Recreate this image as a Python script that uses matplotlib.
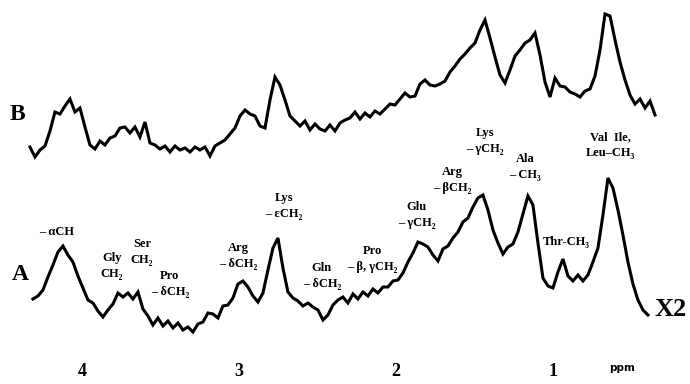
import numpy as np
import matplotlib
matplotlib.use("Agg")
import matplotlib.pyplot as plt

# ---- spectrum A (lower trace), sampled on a uniform ppm grid ----
A_START, A_END = 4.312, 0.392
spec_a = [
    85, 88, 94, 107, 119, 132, 138, 129, 122, 108,
    96, 84, 81, 73, 67, 74, 80, 91, 87, 91,
    85, 92, 75, 68, 59, 66, 58, 63, 56, 61,
    54, 57, 52, 60, 62, 71, 70, 66, 78, 79,
    86, 100, 103, 97, 88, 82, 91, 114, 136, 146,
    116, 92, 86, 83, 78, 81, 77, 74, 64, 69,
    79, 84, 87, 81, 90, 85, 92, 88, 95, 91,
    97, 97, 103, 104, 111, 122, 131, 142, 140, 137,
    129, 123, 135, 138, 146, 152, 162, 166, 177, 186,
    189, 174, 154, 141, 130, 137, 140, 152, 170, 188,
    179, 141, 106, 98, 96, 112, 125, 108, 103, 109,
    103, 109, 122, 136, 169, 206, 196, 174, 149, 122,
    100, 84, 74, 69,
]

# ---- spectrum B (upper trace) ----
B_START, B_END = 4.331, 0.347
spec_b = [
    237, 227, 234, 238, 253, 272, 270, 278, 285, 272,
    276, 257, 239, 235, 243, 239, 246, 248, 256, 257,
    251, 257, 247, 262, 241, 239, 235, 238, 232, 238,
    234, 236, 232, 237, 234, 237, 228, 238, 241, 244,
    250, 256, 268, 274, 270, 268, 258, 256, 284, 307,
    299, 284, 268, 263, 258, 263, 254, 260, 255, 253,
    259, 253, 261, 264, 266, 272, 265, 271, 267, 273,
    270, 275, 280, 279, 285, 291, 287, 288, 300, 304,
    299, 298, 300, 303, 312, 318, 325, 330, 336, 341,
    354, 364, 346, 327, 309, 301, 314, 328, 334, 341,
    344, 351, 329, 302, 287, 306, 298, 297, 292, 290,
    287, 293, 295, 308, 334, 370, 368, 344, 322, 304,
    289, 280, 285, 276, 283, 269,
]

# ---- peak assignments: (text, ppm, height, alignment) ----
peak_labels = [
    ("– αCH", 4.159, 152, "center"),
    ("Gly\nCH₂", 3.808, 118, "center"),
    ("Ser\nCH₂", 3.617, 132, "center"),
    ("Pro\n– δCH₂", 3.439, 100, "center"),
    ("Arg\n– δCH₂", 3.005, 128, "center"),
    ("Lys\n– εCH₂", 2.712, 178, "center"),
    ("Gln\n– δCH₂", 2.470, 108, "center"),
    ("Pro\n– β, γCH₂", 2.311, 125, "left"),
    ("Glu\n– γCH₂", 1.865, 169, "center"),
    ("Arg\n– βCH₂", 1.641, 204, "center"),
    ("Lys\n– γCH₂", 1.431, 243, "center"),
    ("Ala\n– CH₃", 1.176, 217, "center"),
    ("Val  Ile,\nLeu–CH₃", 0.634, 239, "center"),
    ("Thr-CH₃", 0.914, 142, "center"),
]

tick_ppm = [4, 3, 2, 1]
tick_text = ["4", "3", "2", "1"]

SERIF = ["Liberation Serif", "DejaVu Serif"]

fig = plt.figure(figsize=(6.9, 3.84), dpi=100)
ax = fig.add_axes([0, 0, 1, 1])
ax.set_xlim(4.522, 0.124)
ax.set_ylim(0, 384)
ax.axis("off")

shift_a = np.linspace(A_START, A_END, len(spec_a))
shift_b = np.linspace(B_START, B_END, len(spec_b))
ax.plot(shift_a, spec_a, color="black", lw=2.2, solid_joinstyle="miter")
ax.plot(shift_b, spec_b, color="black", lw=2.2, solid_joinstyle="miter")

for txt, ppm, h, ha in peak_labels:
    ax.text(ppm, h, txt, ha=ha, va="center", fontsize=9, fontweight="bold",
            family=SERIF, linespacing=1.35, multialignment="center")

ax.text(4.414, 269, "B", fontsize=17, fontweight="bold", family=SERIF,
        ha="center", va="center")
ax.text(4.395, 109, "A", fontsize=17, fontweight="bold", family=SERIF,
        ha="center", va="center")
ax.text(0.246, 75, "X2", fontsize=19, fontweight="bold", family=SERIF,
        ha="center", va="center")

for p, t in zip(tick_ppm, tick_text):
    ax.text(p, 13, t, fontsize=13, fontweight="bold", family=SERIF,
            ha="center", va="center")
ax.text(0.557, 16, "ppm", fontsize=7.5, fontweight="bold", ha="center", va="center")

fig.savefig("out.png", dpi=100)
